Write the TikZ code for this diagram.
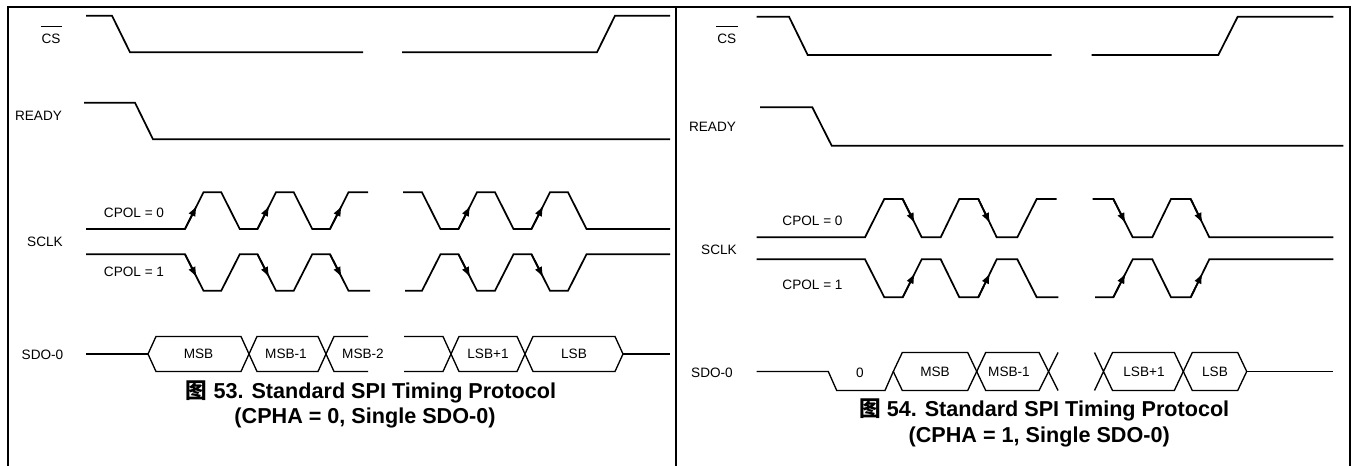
\documentclass[tikz,border=0pt]{standalone}
\usepackage{fontspec}
\setmainfont{Liberation Sans}
\newfontfamily\cjk{Noto Sans CJK SC}
\usetikzlibrary{arrows.meta,calc}
\tikzset{
  wave/.style={line width=1.3pt, line join=miter},
  bus/.style={line width=1pt, line join=miter},
  frame/.style={line width=1.2pt},
  ovl/.style={line width=0.7pt},
  lbl/.style={font=\fontsize{10.2}{12}\selectfont, inner sep=0pt},
  captxt/.style={font=\fontsize{16.2}{19}\selectfont\bfseries, inner sep=0pt},
  arr/.style={line width=1.3pt, -{Latex[length=8pt,width=5.8pt]}},
}
\newcommand\edgearrow[2]{\draw[arr] #1 -- ($#1!0.64!#2$);}
\begin{document}
\begin{tikzpicture}[x=0.75pt,y=-0.75pt]
\useasboundingbox (0,0) rectangle (1353,466);
% frame
\draw[frame] (8,466) -- (8,7) -- (1350,7) -- (1350,466);
\draw[frame] (676,7) -- (676,466);

% ================= LEFT PANEL =================
\node[lbl] (csL) at (51,38.5) {CS};
\draw[ovl] ($(csL.north west)+(-0.5,-7)$) -- ($(csL.north east)+(1.5,-7)$);
\node[lbl] (rdyL) at (38.5,116) {READY};
\node[lbl] (sclkL) at (45,242) {SCLK};
\node[lbl] (c0L) at (134,213) {CPOL = 0};
\node[lbl] (c1L) at (134,272) {CPOL = 1};
\node[lbl] (sdoL) at (42.5,355) {SDO-0};

% CS
\draw[wave] (86,15.7) -- (112,15.7) -- (130,52.3) -- (363,52.3);
\draw[wave] (402,52.3) -- (597,52.3) -- (615,15.7) -- (670,15.7);
% READY
\draw[wave] (84,102.7) -- (135,102.7) -- (153,139.3) -- (670,139.3);
% SCLK CPOL=0  (lo 229, hi 192.3)
\draw[wave] (86,229) -- (185,229) -- (203.5,192.3) -- (221.25,192.3) -- (239.75,229) -- (257.5,229) -- (276,192.3) -- (293.75,192.3) -- (312.25,229) -- (330,229) -- (348.5,192.3) -- (368,192.3);
\draw[wave] (403,192.3) -- (422,192.3) -- (440.5,229) -- (458.5,229) -- (477,192.3) -- (495,192.3) -- (513.5,229) -- (531.5,229) -- (550,192.3) -- (568,192.3) -- (586.5,229) -- (670,229);
\edgearrow{(185,229)}{(203.5,192.3)}
\edgearrow{(257.5,229)}{(276,192.3)}
\edgearrow{(330,229)}{(348.5,192.3)}
\edgearrow{(458.5,229)}{(477,192.3)}
\edgearrow{(531.5,229)}{(550,192.3)}
% SCLK CPOL=1 (hi 254.3, lo 290.7)
\draw[wave] (86,254.3) -- (185,254.3) -- (203.5,290.7) -- (221.25,290.7) -- (239.75,254.3) -- (257.5,254.3) -- (276,290.7) -- (293.75,290.7) -- (312.25,254.3) -- (330,254.3) -- (348.5,290.7) -- (370,290.7);
\draw[wave] (405,290.7) -- (422,290.7) -- (440.5,254.3) -- (458.5,254.3) -- (477,290.7) -- (495,290.7) -- (513.5,254.3) -- (531.5,254.3) -- (550,290.7) -- (568,290.7) -- (586.5,254.3) -- (670,254.3);
\edgearrow{(185,254.3)}{(203.5,290.7)}
\edgearrow{(257.5,254.3)}{(276,290.7)}
\edgearrow{(330,254.3)}{(348.5,290.7)}
\edgearrow{(458.5,254.3)}{(477,290.7)}
\edgearrow{(531.5,254.3)}{(550,290.7)}
% SDO-0 (top 336.5, mid 354, bot 371.5)
\draw[bus] (86,354) -- (148,354);
\draw[bus] (148,354) -- (156,336.5) -- (241,336.5) -- (249,354) -- (241,371.5) -- (156,371.5) -- cycle;
\draw[bus] (249,354) -- (257,336.5) -- (318,336.5) -- (326,354) -- (318,371.5) -- (257,371.5) -- cycle;
\draw[bus] (368,336.5) -- (334,336.5) -- (326,354) -- (334,371.5) -- (368,371.5);
\draw[bus] (404,336.5) -- (443,336.5) -- (451,354) -- (443,371.5) -- (404,371.5);
\draw[bus] (451,354) -- (459,336.5) -- (517,336.5) -- (525,354) -- (517,371.5) -- (459,371.5) -- cycle;
\draw[bus] (525,354) -- (533,336.5) -- (615,336.5) -- (623,354) -- (615,371.5) -- (533,371.5) -- cycle;
\draw[bus] (623,354) -- (670,354);
\node[lbl] (msbA) at (198.5,354) {MSB};
\node[lbl] (msb1A) at (286,354) {MSB-1};
\node[lbl] (msb2A) at (363,354) {MSB-2};
\node[lbl] (lsb1A) at (488,354) {LSB+1};
\node[lbl] (lsbA) at (574,354) {LSB};
% caption
\node[captxt] (capA1) at (371,391.7) {{\cjk 图} 53. Standard SPI Timing Protocol};
\node[captxt] (capA2) at (365,418) {(CPHA = 0, Single SDO-0)};

% ================= RIGHT PANEL =================
\node[lbl] (csR) at (726.7,39) {CS};
\draw[ovl] ($(csR.north west)+(-0.5,-7)$) -- ($(csR.north east)+(1.5,-7)$);
\node[lbl] (rdyR) at (712.5,126.7) {READY};
\node[lbl] (sclkR) at (719,250) {SCLK};
\node[lbl] (c0R) at (812.5,221) {CPOL = 0};
\node[lbl] (c1R) at (812.5,285) {CPOL = 1};
\node[lbl] (sdoR) at (712,372.7) {SDO-0};

% CS
\draw[wave] (756.7,16.7) -- (789,16.7) -- (807.7,55) -- (1051.7,55);
\draw[wave] (1091.7,55) -- (1218.3,55) -- (1237.7,16.7) -- (1333.3,16.7);
% READY
\draw[wave] (760,107.3) -- (812.3,107.3) -- (831.7,145.7) -- (1343.3,145.7);
% SCLK CPOL=0 (lo 237.3, hi 199)
\draw[wave] (756.7,237.3) -- (865,237.3) -- (884.3,199) -- (902.7,199) -- (921.7,237.3) -- (940.7,237.3) -- (959.3,199) -- (978.3,199) -- (996.7,237.3) -- (1017.3,237.3) -- (1036.7,199) -- (1056.7,199);
\draw[wave] (1092.7,199) -- (1113.3,199) -- (1132.7,237.3) -- (1152.3,237.3) -- (1171,199) -- (1190.7,199) -- (1209.3,237.3) -- (1333.3,237.3);
\edgearrow{(902.7,199)}{(921.7,237.3)}
\edgearrow{(978.3,199)}{(996.7,237.3)}
\edgearrow{(1113.3,199)}{(1132.7,237.3)}
\edgearrow{(1190.7,199)}{(1209.3,237.3)}
% SCLK CPOL=1 (hi 259.3, lo 297.3)
\draw[wave] (756.7,259.3) -- (865,259.3) -- (884.3,297.3) -- (902.7,297.3) -- (921.7,259.3) -- (940.7,259.3) -- (959.3,297.3) -- (978.3,297.3) -- (996.7,259.3) -- (1017.3,259.3) -- (1036.7,297.3) -- (1058.3,297.3);
\draw[wave] (1095,297.3) -- (1113.3,297.3) -- (1132.7,259.3) -- (1152.3,259.3) -- (1171,297.3) -- (1190.7,297.3) -- (1209.3,259.3) -- (1333.3,259.3);
\edgearrow{(902.7,297.3)}{(921.7,259.3)}
\edgearrow{(978.3,297.3)}{(996.7,259.3)}
\edgearrow{(1113.3,297.3)}{(1132.7,259.3)}
\edgearrow{(1190.7,297.3)}{(1209.3,259.3)}
% SDO-0 (top 352.5, mid 371.5, bot 390.5)
\draw[bus] (756.7,371.5) -- (828.3,371.5) -- (836.7,390.5) -- (885,390.5) -- (893.3,371.5);
\draw[bus] (893.3,371.5) -- (902.3,352.5) -- (967.7,352.5) -- (976.7,371.5) -- (967.7,390.5) -- (902.3,390.5) -- cycle;
\draw[bus] (976.7,371.5) -- (985.7,352.5) -- (1039,352.5) -- (1058,390.5);
\draw[bus] (976.7,371.5) -- (985.7,390.5) -- (1039,390.5) -- (1058,352.5);
\draw[bus] (1094.5,352.5) -- (1112.5,390.5) -- (1174.3,390.5) -- (1183.3,371.5) -- (1174.3,352.5) -- (1112.5,352.5) -- (1094.5,390.5);
\draw[bus] (1183.3,371.5) -- (1192.3,352.5) -- (1237.7,352.5) -- (1246.7,371.5) -- (1237.7,390.5) -- (1192.3,390.5) -- cycle;
\draw[bus] (1246.7,371.5) -- (1333.3,371.5);
\node[lbl] (zeroB) at (860,373) {0};
\node[lbl] (msbB) at (935,371.5) {MSB};
\node[lbl] (msb1B) at (1009,371.5) {MSB-1};
\node[lbl] (lsb1B) at (1144,371.5) {LSB+1};
\node[lbl] (lsbB) at (1215,371.5) {LSB};
% caption
\node[captxt] (capB1) at (1044.2,410) {{\cjk 图} 54. Standard SPI Timing Protocol};
\node[captxt] (capB2) at (1039.2,436.7) {(CPHA = 1, Single SDO-0)};
\end{tikzpicture}
\end{document}
